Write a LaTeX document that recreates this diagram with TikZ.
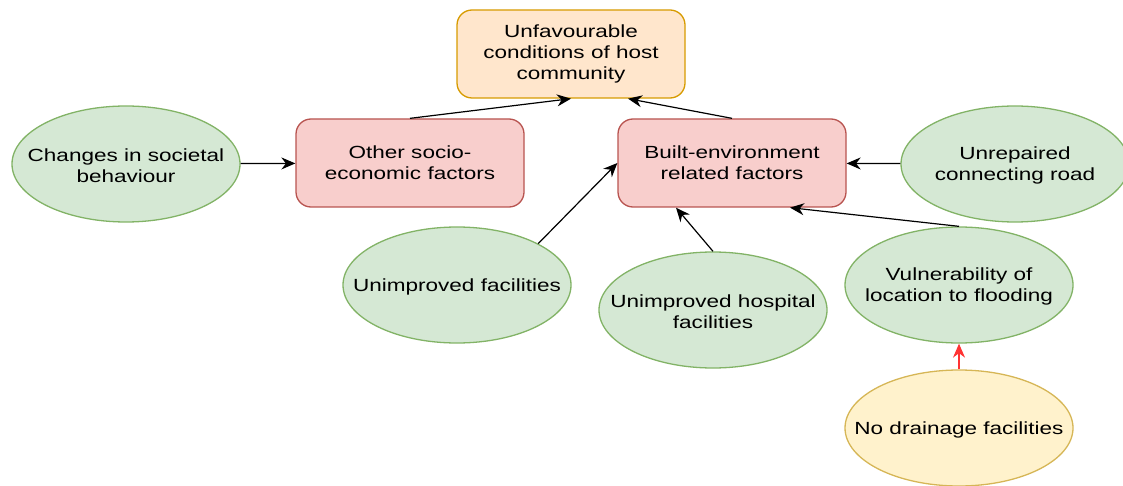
\documentclass[tikz,border=0pt]{standalone}
\usepackage{fontspec}
\setmainfont{Liberation Sans}[FakeStretch=1.28]
\usepackage{xcolor}
\usetikzlibrary{arrows.meta, positioning, calc, shapes.geometric}

\definecolor{topfill}{HTML}{FFE6CC}
\definecolor{topline}{HTML}{D79B00}
\definecolor{redfill}{HTML}{F8CECC}
\definecolor{redline}{HTML}{B85450}
\definecolor{greenfill}{HTML}{D5E8D4}
\definecolor{greenline}{HTML}{82B366}
\definecolor{yellowfill}{HTML}{FFF2CC}
\definecolor{yellowline}{HTML}{D6B656}
\definecolor{redarrow}{HTML}{FF3333}

\tikzset{
    factor/.style={draw=redline, fill=redfill, line width=0.65pt, rounded corners=7.5pt, minimum width=114pt, minimum height=44pt, align=center},
    cause/.style={ellipse, draw=greenline, fill=greenfill, line width=0.65pt, minimum width=114pt, minimum height=58pt, inner sep=0pt},
    lbl/.style={align=center, inner sep=0pt, yshift=-0.8pt},
    link/.style={-{Stealth[length=7pt, width=6pt]}, line width=0.6pt}
}

\begin{document}
\begin{tikzpicture}[x=0.5pt, y=-0.5pt, every node/.style={font=\fontsize{8.8pt}{10.3pt}\selectfont}]
    \useasboundingbox (0,0) rectangle (1123,486);
    % outcome and factors
    \node[factor, draw=topline, fill=topfill] (top) at (571,54) {Unfavourable\\conditions of host\\community};
    \node[factor] (other) at (410,163) {Other socio-\\economic factors};
    \node[factor] (built) at (732,163) {Built-environment\\related factors};
    % causes
    \node[cause, label={[lbl]center:Changes in societal\\behaviour}] (soc) at (126,164) {};
    \node[cause, label={[lbl]center:Unrepaired\\connecting road}] (road) at (1015,164) {};
    \node[cause, label={[lbl]center:Unimproved facilities}] (fac) at (457,285) {};
    \node[cause, label={[lbl]center:Unimproved hospital\\facilities}] (hosp) at (713,310) {};
    \node[cause, label={[lbl]center:Vulnerability of\\location to flooding}] (flood) at (959,285) {};
    \node[cause, draw=yellowline, fill=yellowfill, label={[lbl]center:No drainage facilities}] (drain) at (959,428) {};
    % links
    \draw[link] (soc) -- (other);
    \draw[link] (other.north) -- (top.south);
    \draw[link] (built.north) -- ($(top.south)+(57,0)$);
    \draw[link] (road) -- (built);
    \draw[link] (fac.27) -- (built.west);
    \draw[link] (hosp.north) -- ($(built.south)+(-56,0)$);
    \draw[link] (flood.north) -- ($(built.south)+(58,0)$);
    \draw[link, redarrow] (drain.north) -- (flood.south);
\end{tikzpicture}
\end{document}
